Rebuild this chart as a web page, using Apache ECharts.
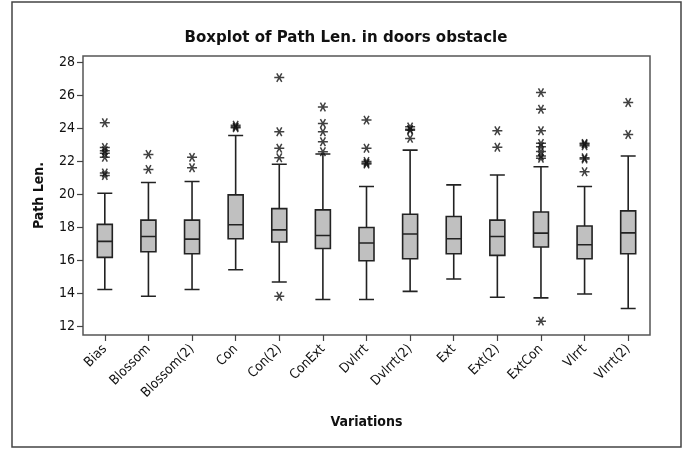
<!DOCTYPE html>
<html>
<head>
<meta charset="utf-8">
<script src="https://cdn.jsdelivr.net/npm/echarts@6/dist/echarts.min.js"></script>
<style>
  html, body { margin: 0; padding: 0; background: #fff; }
  #chart { width: 682px; height: 449px; }
</style>
</head>
<body>
<div id="chart"></div>
<script>
// Path length per variation (doors obstacle)
var categories = ['Bias', 'Blossom', 'Blossom(2)', 'Con', 'Con(2)', 'ConExt', 'Dvlrrt', 'Dvlrrt(2)', 'Ext', 'Ext(2)', 'ExtCon', 'Vlrrt', 'Vlrrt(2)'];
var whiskerLow  = [14.23, 13.82, 14.23, 15.43, 14.69, 13.62, 13.62, 14.12, 14.87, 13.76, 13.72, 13.96, 13.08];
var q1          = [16.18, 16.52, 16.40, 17.31, 17.11, 16.72, 15.98, 16.10, 16.40, 16.30, 16.81, 16.10, 16.40];
var median      = [17.15, 17.45, 17.29, 18.16, 17.85, 17.51, 17.05, 17.60, 17.31, 17.45, 17.65, 16.95, 17.67];
var q3          = [18.18, 18.44, 18.44, 19.97, 19.14, 19.06, 17.99, 18.80, 18.66, 18.44, 18.93, 18.08, 19.00];
var whiskerHigh = [20.07, 20.72, 20.78, 23.58, 21.83, 22.45, 20.48, 22.69, 20.58, 21.18, 21.68, 20.48, 22.33];
var outliers = [
  [24.35, 22.85, 22.65, 22.50, 22.25, 21.30, 21.15],
  [22.43, 21.52],
  [22.25, 21.62],
  [24.20, 24.10, 24.05],
  [27.09, 23.80, 22.80, 22.23, 13.82],
  [25.31, 24.31, 23.80, 23.20, 22.59],
  [24.51, 22.80, 22.00, 21.90, 21.85],
  [24.10, 23.95, 23.90, 23.40],
  [],
  [23.86, 22.86],
  [26.18, 25.17, 23.86, 23.10, 22.90, 22.60, 22.33, 22.19, 12.31],
  [23.10, 23.05, 22.95, 22.23, 22.15, 21.38],
  [25.58, 23.64]
];
var yTicks = [12, 14, 16, 18, 20, 22, 24, 26, 28];

var FONT = "'DejaVu Sans Condensed', 'DejaVu Sans', sans-serif";

var boxData = categories.map(function (c, i) {
  return [whiskerLow[i], q1[i], median[i], q3[i], whiskerHigh[i]];
});
var outlierData = [];
outliers.forEach(function (list, i) {
  list.forEach(function (v) { outlierData.push([i, v]); });
});

var chart = echarts.init(document.getElementById('chart'), null, { renderer: 'canvas' });
chart.setOption({
  backgroundColor: '#ffffff',
  animation: false,
  title: {
    text: 'Boxplot of Path Len. in doors obstacle',
    left: 341, top: 24, textAlign: 'center',
    textStyle: { fontFamily: FONT, fontSize: 16.7, fontWeight: 'bold', color: '#111' }
  },
  graphic: [{
    type: 'rect', silent: true,
    shape: { x: 12, y: 2, width: 669, height: 445 },
    style: { fill: 'none', stroke: '#444', lineWidth: 1.5 }
  }],
  grid: {
    left: 83, top: 56, width: 567, height: 279,
    show: true, borderColor: '#555', borderWidth: 1.5, backgroundColor: 'transparent'
  },
  xAxis: {
    type: 'category',
    data: categories,
    boundaryGap: true,
    name: 'Variations',
    nameLocation: 'middle',
    nameGap: 80,
    nameTextStyle: { fontFamily: FONT, fontSize: 14, fontWeight: 'bold', color: '#111' },
    axisLine: { show: false },
    axisTick: { show: true, alignWithLabel: true, length: 6, lineStyle: { color: '#444', width: 1.2 } },
    axisLabel: { rotate: 45, fontFamily: FONT, fontSize: 13.5, color: '#111', margin: 12, interval: 0 },
    splitLine: { show: false }
  },
  yAxis: {
    type: 'value',
    min: 11.47, max: 28.40,
    name: 'Path Len.',
    nameLocation: 'middle',
    nameGap: 37,
    nameTextStyle: { fontFamily: FONT, fontSize: 14, fontWeight: 'bold', color: '#111' },
    axisLine: { show: false },
    axisTick: { show: true, length: 6, customValues: yTicks, lineStyle: { color: '#444', width: 1.2 } },
    axisLabel: { customValues: yTicks, fontFamily: FONT, fontSize: 14, color: '#111', margin: 8 },
    splitLine: { show: false }
  },
  series: [{
    type: 'boxplot',
    data: boxData,
    boxWidth: [15, 15],
    itemStyle: { color: '#c0c0c0', borderColor: '#222', borderWidth: 1.6 },
    emphasis: { disabled: true }
  }, {
    type: 'scatter',
    data: outlierData,
    symbol: 'path://M0,5L10,5M2.5,0.67L7.5,9.33M2.5,9.33L7.5,0.67',
    symbolSize: 10,
    symbolKeepAspect: true,
    itemStyle: { color: 'none', borderColor: '#111', borderWidth: 1.5 },
    emphasis: { disabled: true }
  }]
});
</script>
</body>
</html>
